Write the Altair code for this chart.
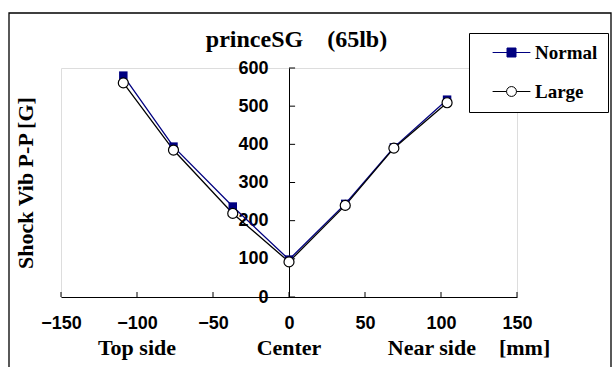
import altair as alt
import pandas as pd

# ---- data ----
positions_mm = [-109, -76, -37, 0, 37, 69, 104]
normal_g = [580, 394, 237, 98, 244, 392, 517]
large_g = [561, 385, 219, 92, 240, 390, 509]
series = ["Normal", "Large"]
x_tick_values = [-150, -100, -50, 0, 50, 100, 150]
y_tick_values = [0, 100, 200, 300, 400, 500, 600]
side_text = ["Top side", "Center", "Near side", "[mm]"]
side_x = [-100, 0, 94, 155]
chart_title = "princeSG\u3000(65lb)"
y_title = "Shock Vib P-P [G]"

W, H = 456, 229
NAVY = "#000080"
SERIF = "Liberation Serif"
SANS = "Liberation Sans"

df = pd.DataFrame({
    "pos": positions_mm * 2,
    "g": normal_g + large_g,
    "series": [series[0]] * len(positions_mm) + [series[1]] * len(positions_mm),
})
normal_df = df[df.series == "Normal"]
large_df = df[df.series == "Large"]
xt_df = pd.DataFrame({"t": x_tick_values})
yt_df = pd.DataFrame({"t": y_tick_values})
side_df = pd.DataFrame({"x": side_x, "label": side_text})
title_df = pd.DataFrame({"label": [chart_title]})

xs = alt.Scale(domain=[-150, 150], nice=False, zero=False)
ys = alt.Scale(domain=[0, 600], nice=False, zero=False)

x_axis = alt.Axis(values=x_tick_values, ticks=False, grid=False, domainColor="black",
                  domainWidth=1, labelFont=SANS, labelFontWeight="bold", labelFontSize=18,
                  labelColor="black", labelPadding=17, title=None, labelFlush=False)
y_axis = alt.Axis(values=y_tick_values, orient="left", offset=-W / 2, ticks=False, grid=False,
                  domainColor="black", domainWidth=1, labelFont=SANS, labelFontWeight="bold",
                  labelFontSize=18, labelColor="black", labelPadding=21,
                  title=y_title, titleFont=SERIF, titleFontWeight="bold", titleFontSize=22,
                  titleColor="black", titleX=-264, titleY=H / 2, titleAngle=-90,
                  titleBaseline="middle", titleAlign="center")

X = alt.X("pos:Q", scale=xs, axis=x_axis)
Y = alt.Y("g:Q", scale=ys, axis=y_axis)

border = alt.Chart(pd.DataFrame({"a": [0]})).mark_rect(
    fill=None, stroke="black", strokeWidth=1.3
).encode(x=alt.value(-52), x2=alt.value(W + 94), y=alt.value(-55), y2=alt.value(H + 300))

xticks = alt.Chart(xt_df).mark_rule(color="black", strokeWidth=1).encode(
    x=alt.X("t:Q", scale=xs, axis=x_axis), y=alt.value(H), y2=alt.value(H - 5))
yticks = alt.Chart(yt_df).mark_rule(color="black", strokeWidth=1).encode(
    y=alt.Y("t:Q", scale=ys, axis=y_axis), x=alt.datum(0, scale=xs), x2=alt.datum(4))

line_n = alt.Chart(normal_df).mark_line(color=NAVY, strokeWidth=1.3).encode(x=X, y=Y)
line_l = alt.Chart(large_df).mark_line(color="black", strokeWidth=1.3).encode(x=X, y=Y)

normal_path = "M-4.2,0H4.2M-1,-1H1V1H-1Z"
large_path = ("M-4.2,0H-1.1M1.1,0H4.2M-1.1,0A1.1,1.1 0 1,0 1.1,0"
              "A1.1,1.1 0 1,0 -1.1,0Z")
leg = alt.Legend(title=None, orient="none", legendX=408, legendY=-35, strokeColor="black",
                 fillColor="white", padding=10, symbolSize=81, symbolStrokeWidth=1,
                 symbolOpacity=1, symbolOffset=23, labelOffset=14, labelFont=SERIF,
                 labelFontWeight="bold", labelFontSize=19, labelColor="black", rowPadding=19,
                 cornerRadius=0)
legend_layer = alt.Chart(df).mark_point(opacity=0, size=81, strokeWidth=1).encode(
    x=X, y=Y,
    shape=alt.Shape("series:N", scale=alt.Scale(domain=series, range=[normal_path, large_path]), legend=leg),
    color=alt.Color("series:N", scale=alt.Scale(domain=series, range=[NAVY, "black"]), legend=leg),
    fill=alt.Fill("series:N", scale=alt.Scale(domain=series, range=[NAVY, "white"]), legend=leg),
)

pts_n = alt.Chart(normal_df).mark_point(shape="square", filled=True, color=NAVY, size=72,
                                        opacity=1).encode(x=X, y=Y)
pts_l = alt.Chart(large_df).mark_point(shape="circle", filled=True, fill="white", stroke="black",
                                       strokeWidth=1.2, size=100, opacity=1).encode(x=X, y=Y)

sides = alt.Chart(side_df).mark_text(font=SERIF, fontWeight="bold", fontSize=22, color="black",
                                     baseline="middle", align="center").encode(
    x=alt.X("x:Q", scale=xs, axis=x_axis), y=alt.value(H + 51), text="label:N")

title_mark = alt.Chart(title_df).mark_text(font=SERIF, fontWeight="bold", fontSize=24,
                                           color="black", baseline="alphabetic",
                                           align="center").encode(
    x=alt.value(W / 2 + 7.5), y=alt.value(-21), text="label:N")

chart = alt.layer(border, xticks, yticks, line_n, line_l, legend_layer, pts_n, pts_l, sides,
                  title_mark).properties(
    width=W, height=H,
    autosize=alt.AutoSizeParams(type="none"),
    padding={"left": 61, "top": 68, "right": 96, "bottom": 70},
).configure_view(stroke=None).configure(background="white")

chart.save("out.html", embed_options={"renderer": "svg", "actions": False})
